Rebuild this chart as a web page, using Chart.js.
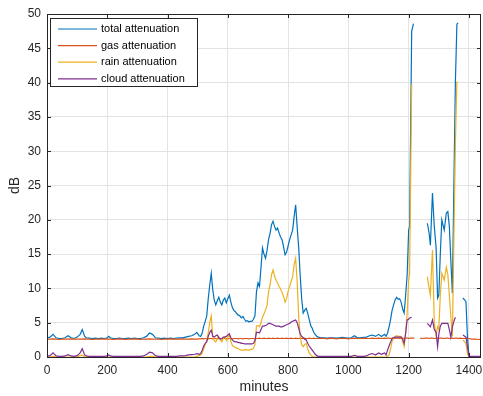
<!DOCTYPE html>
<html lang="en">
<head>
<meta charset="UTF-8">
<title>Attenuation</title>
<style>
    body { margin: 0; background: #fff; }
    #wrap { width: 483px; height: 396px; }
</style>
</head>
<body>
<div id="wrap"><canvas id="attChart" width="483" height="396"></canvas></div>
<script src="https://cdn.jsdelivr.net/npm/chart.js"></script>
<script>
// values (minutes, dB); null = missing sample
const minutes = [
    0, 10, 20, 30, 40, 50, 60, 70, 80, 90, 100, 110, 117, 125, 130, 140, 150, 160, 170, 180, 190,
    200, 205, 210, 220, 230, 240, 250, 260, 270, 280, 290, 300, 310, 320, 330, 340, 350, 360,
    370, 380, 390, 400, 410, 420, 430, 440, 450, 460, 470, 480, 490, 497,
    505, 510, 515, 520, 525, 530, 535, 540, 545, 550, 555, 560, 565, 570, 575, 580, 585, 590, 595,
    600, 605, 610, 615, 620, 625, 630, 635, 640, 645, 650, 655, 660, 665, 670, 675, 680, 685, 690, 695,
    700, 705, 710, 715, 720, 725, 730, 735, 740, 745, 750, 755, 760, 765, 770, 775, 780, 785, 790, 795,
    800, 805, 810, 815, 820, 825, 830, 835, 840, 845, 850, 855, 860, 865, 870, 875, 880, 885, 890, 895,
    900, 910, 920, 930, 940, 950, 960, 970, 980, 990, 1000, 1010, 1020, 1030, 1040, 1050, 1060,
    1070, 1080, 1090, 1100, 1110, 1120, 1125, 1130, 1135, 1140, 1145, 1150, 1155, 1160, 1165, 1170,
    1175, 1180, 1185, 1190, 1195, 1200, 1203, 1210, 1216, 1219, 1222, 1230, 1238, 1245, 1255,
    1262, 1268, 1272, 1279, 1285, 1291, 1296, 1300, 1305, 1310, 1318, 1325, 1330, 1335, 1340, 1345,
    1350, 1355, 1360, 1364, 1370, 1380, 1390, 1395, 1400, 1410, 1420, 1430, 1440
];
const totalAtt = [
    2.8, 2.9, 3.3, 2.8, 2.7, 2.7, 2.8, 3.1, 2.8, 2.7, 2.9, 3.3, 4.0, 3.0, 2.8, 2.75, 2.7, 2.75, 2.7, 2.75, 2.7,
    2.8, 3.0, 2.8, 2.7, 2.7, 2.75, 2.7, 2.7, 2.75, 2.7, 2.75, 2.7, 2.7, 2.8, 3.0, 3.5, 3.3, 2.8,
    2.75, 2.7, 2.75, 2.7, 2.75, 2.7, 2.75, 2.8, 2.8, 2.9, 3.0, 3.1, 3.3, 3.6,
    3.1, 3.0, 3.5, 4.5, 5.2, 6.0, 8.5, 10.5, 12.2, 9.8, 8.3, 7.6, 8.2, 8.7, 8.0, 7.6, 8.3, 8.6, 7.9,
    8.5, 9.0, 8.0, 7.2, 6.8, 6.6, 6.3, 6.1, 6.0, 5.7, 5.9, 5.5, 5.2, 5.3, 5.1, 5.2, 5.2, 5.5, 6.0, 9.5,
    10.8, 10.3, 13.0, 15.9, 15.0, 14.4, 15.5, 17.1, 18.0, 19.3, 19.8, 19.0, 18.5, 18.8, 18.1, 17.5, 17.1, 16.0, 14.9, 15.3,
    16.2, 17.1, 17.8, 18.5, 20.5, 22.2, 19.0, 16.0, 12.0, 8.5, 6.4, 6.8, 7.1, 6.4, 5.5, 4.6, 4.2, 3.6, 3.3, 3.0,
    2.9, 2.8, 2.8, 2.75, 2.8, 2.8, 2.75, 2.8, 2.85, 2.8, 2.75, 2.8, 3.1, 2.8, 2.8, 2.85, 2.9,
    3.1, 3.2, 3.0, 3.3, 3.0, 3.3, 3.0, 3.5, 4.4, 5.5, 6.8, 7.6, 8.3, 8.7, 8.4, 8.5,
    8.0, 7.0, 6.4, 9.0, 12.0, 18.5, 19.0, 47.5, 48.6, null, null, null, null, null, null,
    19.5, 18.0, 16.3, 23.9, 19.0, 16.0, 8.6, 9.0, 15.0, 20.0, 18.5, 21.0, 21.2, 19.0, 14.0, 9.3,
    25.0, 40.0, 48.5, 48.7, null, 8.6, 8.1, 3.0, 0.1, 0.05, 0.05, 0.05, 0.05
];
const gasAtt = [
    2.6, 2.6, 2.65, 2.6, 2.55, 2.6, 2.6, 2.6, 2.65, 2.6, 2.6, 2.6, 2.6, 2.65, 2.6, 2.6, 2.55, 2.6, 2.6, 2.6, 2.6,
    2.65, 2.6, 2.6, 2.55, 2.6, 2.65, 2.6, 2.55, 2.6, 2.6, 2.65, 2.6, 2.55, 2.6, 2.6, 2.65, 2.6, 2.6,
    2.6, 2.55, 2.6, 2.6, 2.65, 2.6, 2.6, 2.6, 2.65, 2.6, 2.6, 2.65, 2.6, 2.6,
    2.65, 2.65, 2.7, 2.65, 2.7, 2.7, 2.65, 2.7, 2.7, 2.65, 2.7, 2.7, 2.65, 2.7, 2.7, 2.65, 2.7, 2.7, 2.7,
    2.65, 2.7, 2.7, 2.65, 2.7, 2.7, 2.7, 2.65, 2.7, 2.7, 2.65, 2.7, 2.7, 2.7, 2.65, 2.7, 2.7, 2.7, 2.65, 2.7,
    2.7, 2.75, 2.7, 2.7, 2.75, 2.7, 2.7, 2.75, 2.7, 2.7, 2.75, 2.7, 2.7, 2.75, 2.7, 2.7, 2.75, 2.7, 2.7, 2.75,
    2.7, 2.7, 2.75, 2.7, 2.7, 2.75, 2.7, 2.7, 2.75, 2.7, 2.7, 2.75, 2.7, 2.7, 2.75, 2.7, 2.7, 2.75, 2.7, 2.7,
    2.7, 2.75, 2.7, 2.65, 2.75, 2.7, 2.65, 2.7, 2.75, 2.7, 2.65, 2.7, 2.75, 2.7, 2.7, 2.75, 2.7,
    2.7, 2.75, 2.7, 2.75, 2.7, 2.75, 2.7, 2.75, 2.75, 2.7, 2.75, 2.75, 2.7, 2.75, 2.75, 2.7,
    2.75, 2.75, 2.7, 2.75, 2.75, 2.7, 2.75, 2.75, 2.75, 2.75, null, null, 2.75, 2.7, 2.75,
    2.75, 2.7, 2.75, 2.75, 2.7, 2.75, 2.75, 2.7, 2.75, 2.75, 2.7, 2.75, 2.75, 2.7, 2.75, 2.75,
    2.7, 2.75, 2.75, 2.7, 2.75, 2.7, 2.75, 2.7, 2.7, 2.6, 2.6, 2.55, 2.6
];
const rainAtt = [
    0, 0, 0.1, 0, 0, 0, 0, 0, 0, 0, 0, 0.2, 0.3, 0, 0, 0, 0, 0, 0, 0, 0,
    0, 0, 0, 0, 0, 0, 0, 0, 0, 0, 0, 0, 0, 0, 0, 0.1, 0.1, 0,
    0, 0, 0, 0, 0, 0, 0, 0, 0, 0, 0, 0, 0, 0.1,
    0.2, 0.3, 0.6, 1.2, 1.8, 2.5, 3.5, 5.0, 6.0, 3.0, 2.4, 2.2, 2.7, 3.0, 2.5, 2.2, 2.7, 2.9, 2.4,
    2.9, 3.2, 2.3, 1.7, 1.5, 1.4, 1.3, 1.2, 1.1, 1.0, 1.0, 1.0, 1.1, 1.0, 1.0, 1.1, 1.1, 1.3, 1.8, 4.5,
    4.6, 4.4, 5.0, 5.8, 6.3, 6.8, 7.5, 9.5, 10.5, 12.0, 12.7, 11.8, 11.2, 10.8, 10.3, 9.9, 9.4, 8.8, 8.0, 8.5,
    9.6, 10.3, 11.0, 11.7, 13.5, 14.4, 11.0, 6.0, 3.0, 1.8, 1.5, 1.8, 2.0, 1.2, 0.6, 0.3, 0.1, 0, 0, 0,
    0, 0, 0, 0, 0, 0, 0, 0, 0, 0, 0, 0, 0, 0, 0, 0, 0,
    0, 0, 0, 0, 0, 0, 0, 0.1, 0.3, 1.2, 2.3, 2.7, 3.0, 3.1, 3.0, 3.0,
    3.0, 2.2, 1.5, 3.5, 6.4, 11.2, 12.0, 39.8, null, null, null, null, null, null, null,
    11.7, 10.0, 9.0, 15.6, 5.0, 3.2, 4.4, 4.0, 9.0, 12.2, 11.2, 13.1, 12.0, 9.0, 5.8, 3.0,
    17.0, 31.0, 40.2, null, null, 2.5, 2.0, 0.5, 0, 0, 0, 0, 0
];
const cloudAtt = [
    0.1, 0.2, 0.6, 0.15, 0.1, 0.1, 0.15, 0.35, 0.15, 0.1, 0.2, 0.6, 1.2, 0.3, 0.15, 0.1, 0.1, 0.1, 0.1, 0.1, 0.1,
    0.15, 0.3, 0.15, 0.1, 0.1, 0.1, 0.1, 0.1, 0.1, 0.1, 0.1, 0.1, 0.1, 0.15, 0.35, 0.7, 0.6, 0.2,
    0.1, 0.1, 0.1, 0.1, 0.1, 0.1, 0.1, 0.15, 0.15, 0.2, 0.3, 0.35, 0.4, 0.5,
    0.4, 0.5, 1.0, 1.6, 2.0, 2.2, 3.0, 3.6, 3.9, 3.0, 2.9, 3.1, 3.2, 2.8, 2.6, 2.7, 2.9, 2.9, 3.0,
    3.2, 3.4, 2.8, 2.5, 2.3, 2.2, 2.2, 2.1, 2.1, 2.0, 2.0, 1.9, 1.9, 1.9, 1.9, 1.9, 1.9, 2.0, 2.4, 3.6,
    3.6, 3.5, 4.0, 4.5, 4.5, 4.6, 4.7, 4.9, 4.9, 4.8, 4.7, 4.6, 4.5, 4.5, 4.5, 4.4, 4.4, 4.5, 4.6, 4.7,
    4.8, 4.9, 5.1, 5.2, 5.3, 5.4, 5.0, 4.2, 3.4, 3.0, 2.8, 2.6, 2.5, 2.0, 1.6, 1.3, 1.0, 0.7, 0.4, 0.2,
    0.1, 0.1, 0.1, 0.1, 0.1, 0.1, 0.1, 0.1, 0.1, 0.1, 0.1, 0.1, 0.25, 0.1, 0.1, 0.1, 0.15,
    0.4, 0.5, 0.3, 0.6, 0.4, 0.6, 0.3, 1.0, 1.6, 2.2, 2.7, 2.8, 2.9, 2.9, 2.9, 2.9,
    2.9, 2.6, 2.0, 3.5, 5.4, 5.5, 5.7, 5.8, null, null, null, null, null, null, null,
    4.9, 4.6, 4.4, 5.4, 4.0, 3.6, 1.5, 3.3, 4.5, 4.9, 4.9, 4.9, 4.9, 4.0, 2.9, 4.4,
    5.2, 5.8, null, null, null, 3.2, 2.9, 1.5, 0.1, 0.1, 0.1, 0.1, 0.1
];
const seriesNames = ['total attenuation', 'gas attenuation', 'rain attenuation', 'cloud attenuation'];
const seriesColors = ['#0072BD', '#D95319', '#EDB120', '#7E2F8E'];
const xTicks = [0, 200, 400, 600, 800, 1000, 1200, 1400];
const yTicks = [0, 5, 10, 15, 20, 25, 30, 35, 40, 45, 50];

const FONT = "'Liberation Sans', Arial, sans-serif";
const INK = '#262626';

function toPoints(values) {
    return minutes.map((m, i) => ({ x: m, y: values[i] }));
}

// MATLAB style: box, inward ticks on all four sides, legend box in upper left
const matlabFrame = {
    id: 'matlabFrame',
    afterDraw(chart) {
        const { ctx, chartArea: a, scales } = chart;
        ctx.save();
        ctx.strokeStyle = INK;
        ctx.lineWidth = 1;
        ctx.beginPath();
        xTicks.forEach(v => {
            const px = Math.round(scales.x.getPixelForValue(v)) + 0.5;
            ctx.moveTo(px, a.bottom); ctx.lineTo(px, a.bottom - 4);
            ctx.moveTo(px, a.top); ctx.lineTo(px, a.top + 4);
        });
        yTicks.forEach(v => {
            const py = Math.round(scales.y.getPixelForValue(v)) + 0.5;
            ctx.moveTo(a.left, py); ctx.lineTo(a.left + 4, py);
            ctx.moveTo(a.right, py); ctx.lineTo(a.right - 4, py);
        });
        ctx.stroke();
        ctx.strokeRect(Math.round(a.left) + 0.5, Math.round(a.top) + 0.5,
            Math.round(a.right - a.left) - 1, Math.round(a.bottom - a.top));

        // legend, listed in dataset index order
        const lx = 50.5, ly = 18.5, lw = 147, lh = 68;
        ctx.fillStyle = '#fff';
        ctx.fillRect(lx, ly, lw, lh);
        ctx.strokeRect(lx, ly, lw, lh);
        ctx.font = '11px ' + FONT;
        ctx.textBaseline = 'middle';
        chart.data.datasets.forEach((ds, i) => {
            const y = 29 + i * 16.6;
            ctx.strokeStyle = ds.borderColor;
            ctx.lineWidth = 1.2;
            ctx.beginPath();
            ctx.moveTo(58, y); ctx.lineTo(97, y);
            ctx.stroke();
            ctx.fillStyle = '#000';
            ctx.fillText(ds.label, 101, y);
        });
        ctx.restore();
    }
};

const ctx = document.getElementById('attChart').getContext('2d');
new Chart(ctx, {
    type: 'line',
    data: {
        datasets: [totalAtt, gasAtt, rainAtt, cloudAtt].map((vals, i) => ({
            label: seriesNames[i],
            data: toPoints(vals),
            borderColor: seriesColors[i],
            borderWidth: 1.2,
            pointRadius: 0,
            tension: 0,
            fill: false,
            spanGaps: false,
            order: 3 - i   // later series drawn on top, like MATLAB
        }))
    },
    options: {
        responsive: false,
        animation: false,
        layout: { padding: { top: 14, right: 2, left: 0, bottom: 0 } },
        plugins: { legend: { display: false }, tooltip: { enabled: false } },
        scales: {
            x: {
                type: 'linear',
                min: 0,
                max: 1440,
                afterBuildTicks: s => { s.ticks = xTicks.map(v => ({ value: v })); },
                afterFit: s => { s.height = 39; s.paddingLeft = 0; s.paddingRight = 0; },
                grid: { color: '#e3e3e3', drawTicks: false },
                border: { display: false },
                ticks: { padding: 6, color: INK, font: { family: FONT, size: 12 }, maxRotation: 0, callback: v => String(v) },
                title: { display: true, text: 'minutes', color: INK, font: { family: FONT, size: 14 }, padding: { top: 0, bottom: 0 } }
            },
            y: {
                min: 0,
                max: 50,
                afterBuildTicks: s => { s.ticks = yTicks.map(v => ({ value: v })); },
                afterFit: s => { s.width = 47; },
                grid: { color: '#e3e3e3', drawTicks: false },
                border: { display: false },
                ticks: { padding: 6, color: INK, font: { family: FONT, size: 12 }, callback: v => String(v) },
                title: { display: true, text: 'dB', color: INK, font: { family: FONT, size: 14 }, padding: { top: 7, bottom: 0 } }
            }
        }
    },
    plugins: [matlabFrame]
});
</script>
</body>
</html>
